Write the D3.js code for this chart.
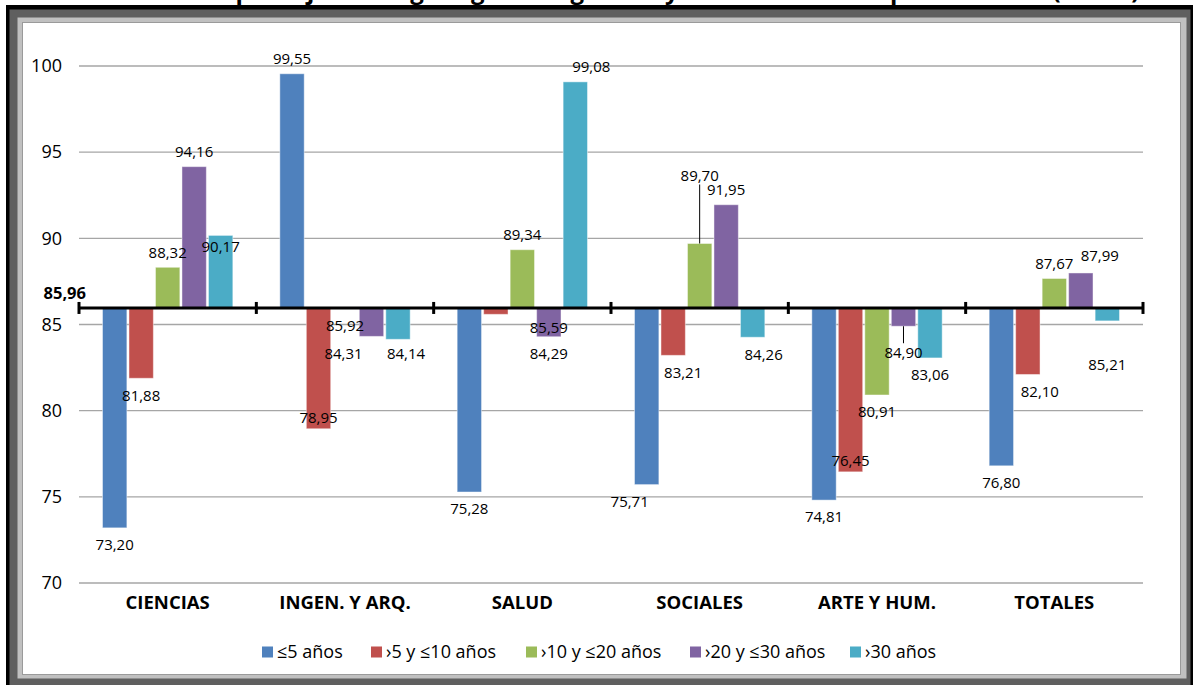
<!DOCTYPE html>
<html><head><meta charset="utf-8">
<script src="https://cdn.jsdelivr.net/npm/d3@7"></script>
<style>body{margin:0;background:#fff;overflow:hidden} svg{display:block} text{font-family:"Open Sans",sans-serif;fill:#000}</style>
</head><body><svg id="c" width="1193" height="685"></svg>
<script>
// ---- data ----
const categories = ["CIENCIAS", "INGEN. Y ARQ.", "SALUD", "SOCIALES", "ARTE Y HUM.", "TOTALES"];
const seriesNames = ["≤5 años", "›5 y ≤10 años", "›10 y ≤20 años", "›20 y ≤30 años", "›30 años"];
const s1 = [73.20, 99.55, 75.28, 75.71, 74.81, 76.80];
const s2 = [81.88, 78.95, 85.59, 83.21, 76.45, 82.10];
const s3 = [88.32, 85.92, 89.34, 89.70, 80.91, 87.67];
const s4 = [94.16, 84.31, 84.29, 91.95, 84.90, 87.99];
const s5 = [90.17, 84.14, 99.08, 84.26, 83.06, 85.21];
const baseline = 85.96;
const yTicks = [70, 75, 80, 85, 90, 95, 100];
const titleText = "Variación de puntaje en Sesgo según antigüedad y tamaño de los departamentos (n=135)";

const seriesValues = [s1, s2, s3, s4, s5];
const colors = ["#4f81bd", "#c0504d", "#9bbb59", "#8064a2", "#4bacc6"];
const fmt = v => v.toFixed(2).replace(".", ",");

// label placement tweaks (category index - series index)
const labelTweaks = {
  "0-4": {mode: "inside"},
  "1-1": {mode: "inside"},
  "1-3": {dx: -28},
  "1-4": {dx: 8, dy: -3},
  "2-1": {dx: 53, dy: -4},
  "2-4": {dx: 16},
  "3-0": {dx: -17},
  "3-1": {dx: 10},
  "3-2": {dy: -53, leader: true},
  "3-4": {dx: 11},
  "4-1": {mode: "inside"},
  "4-3": {dy: 10, leader: true},
  "5-1": {dx: 12},
  "5-3": {dx: 19, dy: -2},
  "5-4": {dy: 27}
};

const svg = d3.select("#c");

// title (cut by the frame)
svg.append("text").attr("x", 610).attr("y", -1).attr("text-anchor", "middle")
  .style("font-size", "24px").style("font-weight", "bold").text(titleText);

// frame
svg.append("rect").attr("x", 6).attr("y", 5).attr("width", 1187).attr("height", 680).attr("fill", "#000");
svg.append("rect").attr("x", 9.5).attr("y", 9.5).attr("width", 1181).attr("height", 676).attr("fill", "#5f5f5f");
svg.append("rect").attr("x", 17.5).attr("y", 17.5).attr("width", 1169).attr("height", 661).attr("fill", "#c0c0c0");
svg.append("rect").attr("x", 22.5).attr("y", 22.5).attr("width", 1158).attr("height", 652).attr("fill", "#fff")
  .attr("stroke", "#9a9a9a").attr("stroke-width", 1);

const left = 79, right = 1143;
const y = d3.scaleLinear().domain([70, 100]).range([583, 66]);
const x0 = d3.scaleBand().domain(categories).range([left, right]).padding(0);
const bw = x0.bandwidth();
const x1 = d3.scaleBand().domain(d3.range(5)).range([23.5, bw - 23.5]).paddingInner(0.08).paddingOuter(0);

// gridlines
svg.append("g").selectAll("line").data(yTicks).join("line")
  .attr("x1", left).attr("x2", right).attr("y1", d => y(d)).attr("y2", d => y(d))
  .attr("stroke", "#a6a6a6").attr("stroke-width", 1.4);

// y axis labels
const yAxis = d3.axisLeft(y).tickValues(yTicks).tickSize(0).tickPadding(17).tickFormat(d => d);
const ya = svg.append("g").attr("transform", `translate(${left},0)`).call(yAxis);
ya.select(".domain").remove();
ya.selectAll("text").style("font-size", "18px").style("font-family", "'Open Sans',sans-serif").attr("fill", "#000");

// bars
const bars = [];
categories.forEach((c, ci) => seriesValues.forEach((sv, si) => bars.push({c, ci, si, v: sv[ci]})));
svg.append("g").selectAll("rect").data(bars).join("rect")
  .attr("x", d => x0(d.c) + x1(d.si))
  .attr("width", x1.bandwidth())
  .attr("y", d => Math.min(y(d.v), y(baseline)))
  .attr("height", d => Math.abs(y(d.v) - y(baseline)))
  .attr("fill", d => colors[d.si])
  .attr("stroke", "rgba(255,255,255,0.45)").attr("stroke-width", 1);

// baseline axis (at 85.96)
const yb = y(baseline);
svg.append("line").attr("x1", left).attr("x2", right).attr("y1", yb).attr("y2", yb)
  .attr("stroke", "#000").attr("stroke-width", 3);
const edges = categories.map(c => x0(c)).concat([right]);
svg.append("g").selectAll("line").data(edges).join("line")
  .attr("x1", d => d).attr("x2", d => d).attr("y1", yb - 6).attr("y2", yb + 6)
  .attr("stroke", "#000").attr("stroke-width", 3);
svg.append("text").attr("x", 86).attr("y", yb - 9).attr("text-anchor", "end")
  .style("font-size", "16.5px").style("font-weight", "bold").text(fmt(baseline));

// data labels
const lg = svg.append("g");
bars.forEach(d => {
  const t = labelTweaks[d.ci + "-" + d.si] || {};
  const cx = x0(d.c) + x1(d.si) + x1.bandwidth() / 2;
  const end = y(d.v);
  const up = d.v >= baseline;
  let ly;
  if (t.mode === "inside") ly = up ? end + 11 : end - 11;
  else ly = up ? end - 15 : end + 17;
  ly += (t.dy || 0);
  const lx = cx + (t.dx || 0);
  if (t.leader) {
    lg.append("line").attr("x1", cx).attr("x2", cx)
      .attr("y1", end).attr("y2", up ? ly + 9 : ly - 10)
      .attr("stroke", "#000").attr("stroke-width", 1);
  }
  lg.append("text").attr("x", lx).attr("y", ly).attr("dy", "0.35em").attr("text-anchor", "middle")
    .style("font-size", "15px").text(fmt(d.v));
});

// category labels
svg.append("g").selectAll("text").data(categories).join("text")
  .attr("x", d => x0(d) + bw / 2).attr("y", 603).attr("dy", "0.35em").attr("text-anchor", "middle")
  .style("font-size", "18.5px").style("font-weight", "bold").text(d => d);

// legend
const legX = [262, 371, 526, 690, 850];
const leg = svg.append("g").selectAll("g").data(seriesNames).join("g")
  .attr("transform", (d, i) => `translate(${legX[i]},652)`);
leg.append("rect").attr("x", 0).attr("y", -5.5).attr("width", 11).attr("height", 11).attr("fill", (d, i) => colors[i]);
leg.append("text").attr("x", 15).attr("y", 0).attr("dy", "0.35em").style("font-size", "18px").text(d => d);
</script></body></html>
